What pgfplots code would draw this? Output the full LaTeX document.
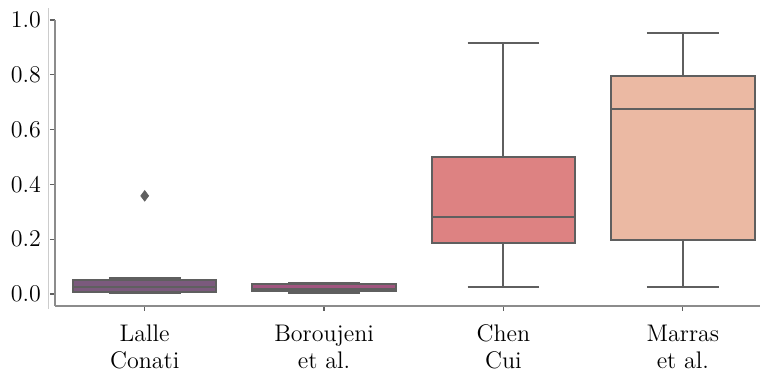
\documentclass[border=0pt]{standalone}
\usepackage{pgfplots}
\pgfplotsset{compat=1.18}
\usepgfplotslibrary{statistics}
\definecolor{boxline}{HTML}{5F5F5F}
\definecolor{cA}{HTML}{7B5A7D}
\definecolor{cB}{HTML}{A0557F}
\definecolor{cC}{HTML}{DD8282}
\definecolor{cD}{HTML}{EBB9A3}
\definecolor{spine}{HTML}{8C8C8C}
\begin{document}
\begin{tikzpicture}
\begin{axis}[
  name=ax,
  scale only axis,
  width=352.5pt, height=143pt,
  xmin=-0.5, xmax=3.43,
  ymin=-0.044, ymax=1.0,
  axis x line*=bottom,
  axis y line*=left,
  axis line style={spine, line width=0.7pt},
  xtick={0,1,2,3},
  xticklabels={{Lalle\\Conati},{Boroujeni\\et al.},{Chen\\Cui},{Marras\\et al.}},
  xticklabel style={align=center, font=\fontsize{12}{13.5}\selectfont, yshift=-3.5pt},
  ytick={0,0.2,0.4,0.6,0.8,1.0},
  yticklabel style={font=\fontsize{12}{14}\selectfont, xshift=-1pt, /pgf/number format/.cd, fixed, fixed zerofill, precision=1},
  tick align=outside,
  major tick length=2.5pt,
  tick style={boxline, line width=0.6pt},
  clip=false,
  boxplot/draw direction=y,
]
\addplot[boxplot prepared={draw position=0, median=0.027, upper quartile=0.051, lower quartile=0.007, upper whisker=0.057, lower whisker=0.003, box extend=0.8, whisker extend=0.4},
  draw=boxline, fill=cA, line width=1pt, solid] coordinates {};
\addplot[boxplot prepared={draw position=1, median=0.019, upper quartile=0.036, lower quartile=0.011, upper whisker=0.041, lower whisker=0.003, box extend=0.8, whisker extend=0.4},
  draw=boxline, fill=cB, line width=1pt, solid] coordinates {};
\addplot[boxplot prepared={draw position=2, median=0.280, upper quartile=0.501, lower quartile=0.185, upper whisker=0.915, lower whisker=0.024, box extend=0.8, whisker extend=0.4},
  draw=boxline, fill=cC, line width=1pt, solid] coordinates {};
\addplot[boxplot prepared={draw position=3, median=0.675, upper quartile=0.796, lower quartile=0.197, upper whisker=0.951, lower whisker=0.024, box extend=0.8, whisker extend=0.4},
  draw=boxline, fill=cD, line width=1pt, solid] coordinates {};
\addplot[only marks, mark=diamond*, mark size=2.6pt, mark options={fill=boxline, draw=boxline}] coordinates {(0,0.358)};
\end{axis}
\draw[black!20, line width=0.4pt] ([shift={(-3.5pt,-1.5pt)}]ax.south west) -- ([shift={(-3.5pt,149pt)}]ax.south west);
\pgfresetboundingbox
\path[use as bounding box] ([shift={(-27.5pt,-36pt)}]ax.south west) rectangle ([shift={(352.5pt,153pt)}]ax.south west);
\end{tikzpicture}
\end{document}
